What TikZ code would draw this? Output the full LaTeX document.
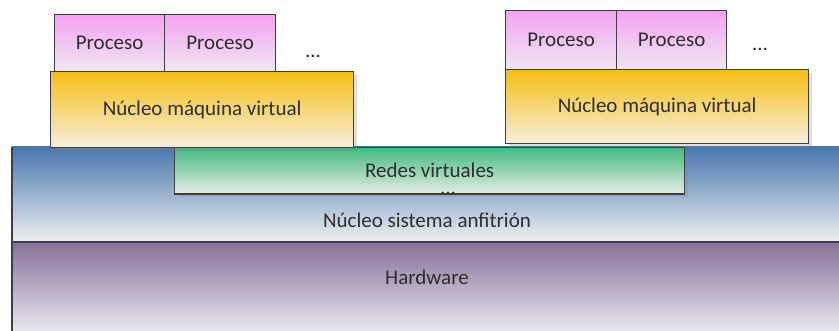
\documentclass[tikz,border=0pt]{standalone}
\usepackage{fontspec}
\setmainfont{Carlito}
\usetikzlibrary{shadows}

\definecolor{lineGray}{HTML}{3E3E44}
\definecolor{textGray}{HTML}{2E2E2E}
\definecolor{procTop}{HTML}{F4A2F2}
\definecolor{procBot}{HTML}{EEE8F0}
\definecolor{kernTop}{HTML}{F6BE14}
\definecolor{kernBot}{HTML}{F6EFDF}
\definecolor{netTop}{HTML}{44BA80}
\definecolor{netBot}{HTML}{E6ECE6}
\definecolor{hostTop}{HTML}{4877AE}
\definecolor{hostBot}{HTML}{EEF0F1}
\definecolor{hwTop}{HTML}{87709A}
\definecolor{hwBot}{HTML}{E8E6EC}

\begin{document}
\begin{tikzpicture}[x=1pt,y=-1pt,
    label text/.style={font=\fontsize{21}{24}\selectfont, text=textGray, inner sep=0pt},
    box/.style={label text, draw=lineGray, line width=1.2pt, anchor=north west},
    proceso/.style={box, top color=procTop, bottom color=procBot, minimum height=57pt},
    nucleo/.style={box, top color=kernTop, bottom color=kernBot, minimum width=303pt,
        drop shadow={shadow xshift=3pt, shadow yshift=-3pt, opacity=.25}},
    redes/.style={box, top color=netTop, bottom color=netBot,
        drop shadow={shadow xshift=3pt, shadow yshift=-3pt, opacity=.2}}]

    % Fix the size of the page
    \useasboundingbox (0,0) rectangle (839,331);

    % Host kernel and hardware bands
    \fill[top color=hostTop, bottom color=hostBot] (12,147) rectangle (839,242);
    \fill[top color=hwTop, bottom color=hwBot] (12,242) rectangle (839,331);
    \draw[lineGray, line width=1.6pt] (12,242) -- (839,242);
    \draw[lineGray, line width=1.2pt] (12,147) -- (12,331);
    \node[label text] (host) at (427,220) {Núcleo sistema anfitrión};
    \node[label text] (hw) at (427,277) {Hardware};

    % Virtual networks (the dots sit on its lower edge)
    \node[redes, minimum width=510pt, minimum height=46pt] (net) at (174,147) {Redes virtuales};
    \node[label text, anchor=base] (netdots) at (448,195) {...};
    \draw[lineGray, line width=1.2pt] (net.south west) -- (net.south east);

    % Left virtual machine
    \node[nucleo, minimum height=76pt] (kernL) at (50,71) {Núcleo máquina virtual};
    \node[proceso, minimum width=110pt] (procLa) at (54,14) {Proceso};
    \node[proceso, minimum width=111pt] (procLb) at (164,14) {Proceso};
    \node[label text] (dotsL) at (313,56) {...};

    % Right virtual machine
    \node[nucleo, minimum height=74pt] (kernR) at (505,69) {Núcleo máquina virtual};
    \node[proceso, minimum width=111pt, minimum height=59pt] (procRa) at (505,10) {Proceso};
    \node[proceso, minimum width=110pt, minimum height=59pt] (procRb) at (616,10) {Proceso};
    \node[label text] (dotsR) at (760,49) {...};

\end{tikzpicture}
\end{document}
